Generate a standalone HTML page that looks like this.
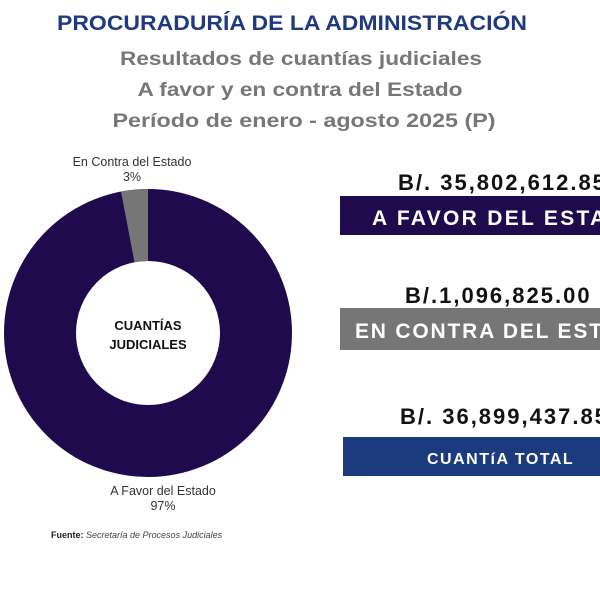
<!DOCTYPE html>
<html><head><meta charset="utf-8"><style>
html,body{margin:0;padding:0;background:#fff;width:600px;height:600px;overflow:hidden}
svg{display:block;font-family:"Liberation Sans",sans-serif}
</style></head><body>
<svg width="600" height="600" viewBox="0 0 600 600">
<text x="292" y="30" text-anchor="middle" font-size="21" font-weight="bold" fill="#1f3a80" textLength="470" lengthAdjust="spacingAndGlyphs">PROCURADURÍA DE LA ADMINISTRACIÓN</text>
<g font-size="19" font-weight="bold" fill="#777" text-anchor="middle">
<text x="301" y="65" textLength="362" lengthAdjust="spacingAndGlyphs">Resultados de cuantías judiciales</text>
<text x="300" y="96" textLength="325" lengthAdjust="spacingAndGlyphs">A favor y en contra del Estado</text>
<text x="304" y="127" textLength="383" lengthAdjust="spacingAndGlyphs">Período de enero - agosto 2025 (P)</text>
</g>
<circle cx="148" cy="333" r="108" fill="none" stroke="#200a4e" stroke-width="72"/>
<path d="M148 189 A144 144 0 0 0 121 191.6 L134.5 262.3 A72 72 0 0 1 148 261 Z" fill="#767676"/>
<text x="132" y="166" text-anchor="middle" font-size="12.5" fill="#333">En Contra del Estado</text>
<text x="132" y="181" text-anchor="middle" font-size="12.5" fill="#333">3%</text>
<text x="163" y="495" text-anchor="middle" font-size="12.5" fill="#333">A Favor del Estado</text>
<text x="163" y="510" text-anchor="middle" font-size="12.5" fill="#333">97%</text>
<text x="148" y="330" text-anchor="middle" font-size="13" font-weight="bold" fill="#111">CUANTÍAS</text>
<text x="148" y="349" text-anchor="middle" font-size="13" font-weight="bold" fill="#111">JUDICIALES</text>
<text x="51" y="538" font-size="9" fill="#222"><tspan font-weight="bold">Fuente:</tspan> <tspan font-style="italic" fill="#444">Secretaría de Procesos Judiciales</tspan></text>
<text x="398" y="190" font-size="22" font-weight="bold" fill="#111" letter-spacing="2">B/. 35,802,612.85</text>
<rect x="340" y="196" width="260" height="39" fill="#200a4e"/>
<text x="372" y="225" font-size="21" font-weight="bold" fill="#fff" letter-spacing="2.3">A FAVOR DEL ESTADO</text>
<text x="405" y="303" font-size="22" font-weight="bold" fill="#111" letter-spacing="2">B/.1,096,825.00</text>
<rect x="340" y="308" width="260" height="42" fill="#767676"/>
<text x="355" y="338" font-size="21" font-weight="bold" fill="#fff" letter-spacing="1.8">EN CONTRA DEL ESTADO</text>
<text x="400" y="424" font-size="22" font-weight="bold" fill="#111" letter-spacing="2">B/. 36,899,437.85</text>
<rect x="343" y="437" width="257" height="39" fill="#1c3a7e"/>
<text x="427" y="464" font-size="16" font-weight="bold" fill="#fff" letter-spacing="1.5">CUANTíA TOTAL</text>
</svg>
</body></html>
